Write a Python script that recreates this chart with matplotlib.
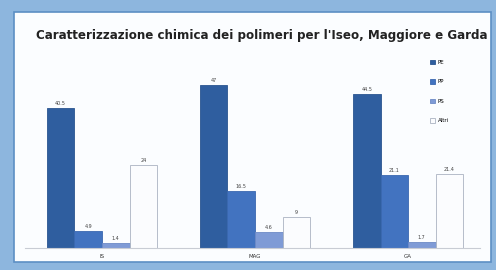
import matplotlib.pyplot as plt
import numpy as np
from matplotlib.patches import Rectangle

# data
laghi = ["IS", "MAG", "GA"]
polimeri = ["PE", "PP", "PS", "Altri"]
pe = [40.5, 47, 44.5]
pp = [4.9, 16.5, 21.1]
ps = [1.4, 4.6, 1.7]
altri = [24.0, 9, 21.4]

colors = ["#2f5e9f", "#4273c0", "#7f9bd6", "#fbfcfe"]
edges = ["#2a5590", "#3a68b0", "#6d8ac6", "#aab3c2"]

W, H = 496, 270
fig = plt.figure(figsize=(W / 100, H / 100), dpi=100)
fig.patch.set_facecolor("#8db6de")

# white slide panel behind the chart
bg = fig.add_axes([0, 0, 1, 1], zorder=-1)
bg.set_axis_off()
bg.set_xlim(0, W)
bg.set_ylim(H, 0)
bg.add_patch(Rectangle((14, 12), 477, 250, facecolor="#fbfdff", edgecolor="#5c8fc4", linewidth=1.2))

ax = fig.add_axes([25 / W, 22 / H, 455 / W, 188 / H], zorder=1)
ax.set_facecolor("none")

x = np.arange(len(laghi))
width = 0.18
series = [pe, pp, ps, altri]
for i, (vals, lab) in enumerate(zip(series, polimeri)):
    pos = x + (i - 1.5) * width
    bars = ax.bar(pos, vals, width, color=colors[i], edgecolor=edges[i], linewidth=0.6, label=lab)
    ax.bar_label(bars, labels=[f"{v:g}" for v in vals], padding=1.5, fontsize=3.5, color="#444444")

ax.set_xlim(-0.503, 2.47)
ax.set_ylim(0, 54.3)
ax.set_yticks([])
ax.set_xticks(x)
ax.set_xticklabels(laghi, fontsize=4, color="#333333")
ax.tick_params(axis="x", length=0, pad=4)
for s in ["top", "right", "left"]:
    ax.spines[s].set_visible(False)
ax.spines["bottom"].set_color("#c8ccd4")
ax.spines["bottom"].set_linewidth(0.8)

fig.text(36 / W, 1 - 36 / H, "Caratterizzazione chimica dei polimeri per l'Iseo, Maggiore e Garda",
         fontsize=8.6, fontweight="bold", color="#222222", ha="left", va="center")

ax.legend(loc="upper left", bbox_to_anchor=(427 / W, 1 - 57 / H), bbox_transform=fig.transFigure,
          frameon=False, fontsize=4, handlelength=1.0, handleheight=0.8, handletextpad=0.4,
          labelspacing=2.6, borderpad=0)

fig.savefig("out.png", dpi=100, facecolor=fig.get_facecolor())
